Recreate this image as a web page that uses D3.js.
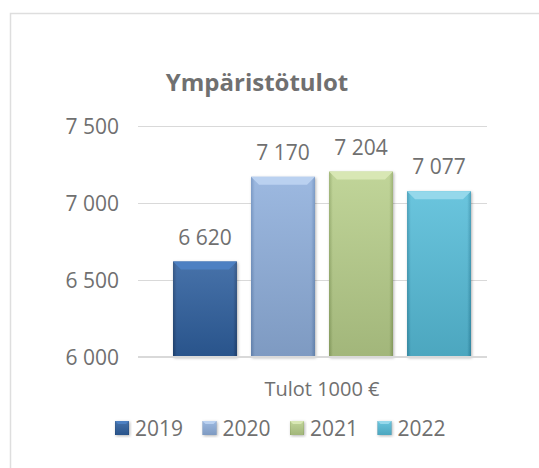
<!DOCTYPE html>
<html>
<head>
<meta charset="utf-8">
<script src="https://cdn.jsdelivr.net/npm/d3@7"></script>
<style>
  body { margin: 0; background: #fff; }
  text { font-family: "Open Sans", "Noto Sans", sans-serif; fill: #707070; }
</style>
</head>
<body>
<svg id="chart"></svg>
<script>
// Data
const years = ["2019", "2020", "2021", "2022"];
const values = [6620, 7170, 7204, 7077];
const yTicks = [6000, 6500, 7000, 7500];
const title = "Ympäristötulot";
const axisTitle = "Tulot 1000 €";

// colour per year: [main, top bevel, dark edge]
const palette = [
  ["#2f5f9e", "#4d80c2", "#1f4577"],
  ["#8fafdc", "#bad1f0", "#6c8fc0"],
  ["#b8cf8b", "#d8e7b4", "#93ab66"],
  ["#56bdd9", "#95d8eb", "#3796b3"]
];

const width = 539, height = 468;
const svg = d3.select("#chart").attr("width", width).attr("height", height);

const fiLocale = d3.formatLocale({ decimal: ",", thousands: " ", grouping: [3], currency: ["", " €"] });
const fmt = fiLocale.format(",d");

// chart frame
svg.append("rect")
  .attr("x", 10.5).attr("y", 13.5)
  .attr("width", width).attr("height", height)
  .attr("fill", "none").attr("stroke", "#dedede").attr("stroke-width", 1.5);

// scales
const plotLeft = 138, plotRight = 487;
const y = d3.scaleLinear().domain([6000, 7500]).range([357, 126]);
const x = d3.scaleBand().domain(years).range([173, 471]).paddingInner(0.18).paddingOuter(0);

// gradients
const defs = svg.append("defs");
palette.forEach((c, i) => {
  const gh = defs.append("linearGradient").attr("id", "gh" + i).attr("x1", 0).attr("x2", 1).attr("y1", 0).attr("y2", 0);
  gh.append("stop").attr("offset", "0%").attr("stop-color", c[2]);
  gh.append("stop").attr("offset", "6%").attr("stop-color", c[0]);
  gh.append("stop").attr("offset", "94%").attr("stop-color", c[0]);
  gh.append("stop").attr("offset", "100%").attr("stop-color", c[2]);
  const gv = defs.append("linearGradient").attr("id", "gv" + i).attr("x1", 0).attr("x2", 0).attr("y1", 0).attr("y2", 1);
  gv.append("stop").attr("offset", "0%").attr("stop-color", "#fff").attr("stop-opacity", 0.12);
  gv.append("stop").attr("offset", "100%").attr("stop-color", "#000").attr("stop-opacity", 0.12);
});
const shadow = defs.append("filter").attr("id", "shadow").attr("x", "-20%").attr("y", "-20%").attr("width", "140%").attr("height", "140%");
shadow.append("feDropShadow").attr("dx", 1).attr("dy", 1).attr("stdDeviation", 1.5).attr("flood-color", "#000").attr("flood-opacity", 0.3);

// gridlines
svg.append("g")
  .attr("transform", `translate(${plotLeft},0)`)
  .call(d3.axisLeft(y).tickValues(yTicks).tickSize(-(plotRight - plotLeft)).tickFormat(""))
  .call(g => g.select(".domain").remove())
  .call(g => g.selectAll(".tick line").attr("stroke", "#d9d9d9").attr("stroke-width", 1.2));

// y axis labels
svg.append("g")
  .attr("transform", `translate(119,0)`)
  .call(d3.axisLeft(y).tickValues(yTicks).tickSize(0).tickPadding(0).tickFormat(fmt))
  .call(g => g.select(".domain").remove())
  .call(g => g.selectAll(".tick text").attr("font-size", 21).attr("font-family", null).attr("fill", "#707070").attr("dy", "0.35em"));

// bevel bar drawing
function drawBar(g, x0, y0, w, h, i, bevel) {
  const c = palette[i];
  g.append("rect").attr("x", x0).attr("y", y0).attr("width", w).attr("height", h)
    .attr("fill", `url(#gh${i})`).attr("filter", "url(#shadow)");
  g.append("rect").attr("x", x0).attr("y", y0).attr("width", w).attr("height", h)
    .attr("fill", `url(#gv${i})`);
  g.append("polygon")
    .attr("points", [[x0, y0], [x0 + w, y0], [x0 + w - bevel, y0 + bevel], [x0 + bevel, y0 + bevel]].join(" "))
    .attr("fill", c[1]);
}

// bars
const bars = svg.append("g");
years.forEach((yr, i) => {
  const top = y(values[i]);
  drawBar(bars, x(yr), top, x.bandwidth(), y(6000) - top, i, 8);
});

// baseline
svg.append("line")
  .attr("x1", plotLeft).attr("x2", plotRight)
  .attr("y1", y(6000)).attr("y2", y(6000))
  .attr("stroke", "#d9d9d9").attr("stroke-width", 2);

// value labels
svg.append("g").selectAll("text").data(values).join("text")
  .attr("x", (d, i) => x(years[i]) + x.bandwidth() / 2)
  .attr("y", d => y(d) - 17)
  .attr("text-anchor", "middle")
  .attr("font-size", 21)
  .text(d => fmt(d));

// title
svg.append("text")
  .attr("x", 257).attr("y", 91)
  .attr("text-anchor", "middle")
  .attr("font-size", 24).attr("font-weight", "bold")
  .attr("fill", "#767676")
  .text(title);

// axis title
svg.append("text")
  .attr("x", 322).attr("y", 396)
  .attr("text-anchor", "middle")
  .attr("font-size", 20)
  .text(axisTitle);

// legend
const legend = svg.append("g");
years.forEach((yr, i) => {
  const lx = 115 + i * 87.5;
  const item = legend.append("g");
  drawBar(item, lx, 421, 14, 14, i, 3);
  item.append("text")
    .attr("x", lx + 20).attr("y", 436)
    .attr("font-size", 21)
    .text(yr);
});
</script>
</body>
</html>
